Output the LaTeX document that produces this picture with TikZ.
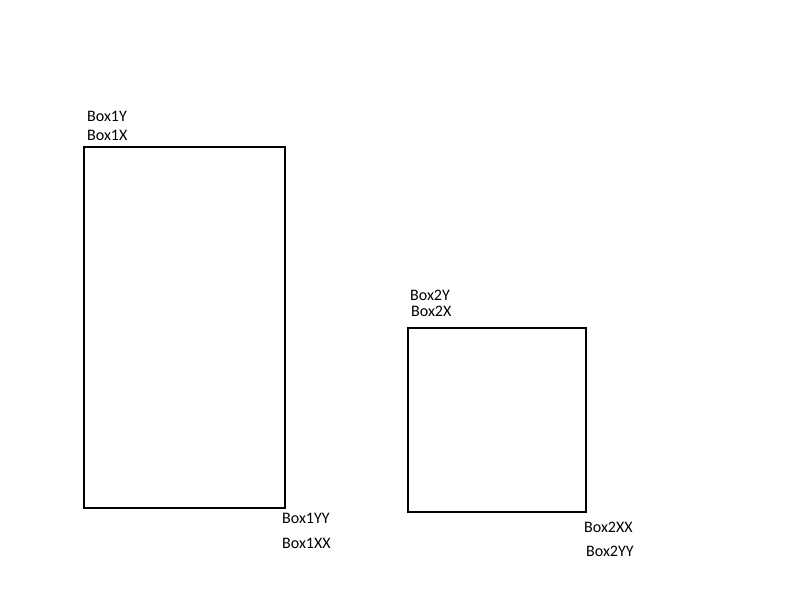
\documentclass[tikz,border=0pt]{standalone}
\usepackage{fontspec}
\setmainfont{Carlito}
\usepackage{tikz}

\begin{document}
\begin{tikzpicture}[
  x=1pt, y=-1pt,
  font=\fontsize{16}{19}\selectfont,
  box/.style={draw=black, line width=1.6pt, inner sep=0pt},
  tag/.style={anchor=west, inner sep=0pt}
]
  \useasboundingbox (0,0) rectangle (800,600);

  \node[box, minimum width=201pt, minimum height=361pt] (box1) at (184.5,327.5) {};
  \node[box, minimum width=178pt, minimum height=184pt] (box2) at (497,420) {};

  \node[tag] (box1y) at (87,116) {Box1Y};
  \node[tag] (box1x) at (87,135) {Box1X};
  \node[tag] (box1yy) at (282,518) {Box1YY};
  \node[tag] (box1xx) at (282,543) {Box1XX};

  \node[tag] (box2y) at (410,295) {Box2Y};
  \node[tag] (box2x) at (411,311) {Box2X};
  \node[tag] (box2xx) at (584,527) {Box2XX};
  \node[tag] (box2yy) at (586,551) {Box2YY};
\end{tikzpicture}
\end{document}
